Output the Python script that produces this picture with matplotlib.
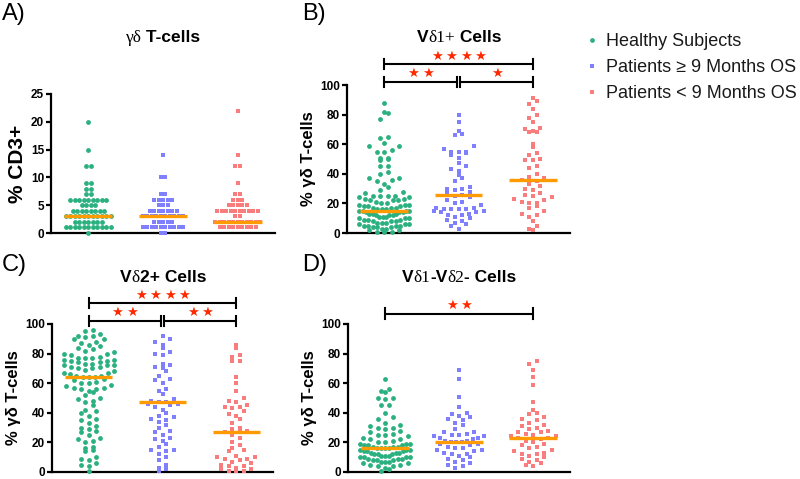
import numpy as np
import matplotlib
matplotlib.use('Agg')
import matplotlib.pyplot as plt
from matplotlib.lines import Line2D

plt.rcParams['font.family'] = ['Liberation Sans', 'DejaVu Sans']

W, H = 800, 479

groups = ['Healthy Subjects', 'Patients ≥ 9 Months OS', 'Patients < 9 Months OS']
colors = ['#2bb07f', '#8080ff', '#fa7d7d']
markers = ['o', 's', 's']
median_color = '#ff9a00'
star_color = '#ff2a00'

# A) gd T-cells, % CD3+
gd_healthy = [20, 15, 12, 12, 9, 9, 8, 8, 7, 7,
              6, 6, 6, 6, 6, 6, 6, 6, 6, 5, 5, 5, 5,
              4, 4, 4, 4, 4, 4, 4, 4,
              3, 3, 3, 3, 3, 3, 3, 3, 3, 3, 3,
              2, 2, 2, 2, 2, 2, 2,
              1, 1, 1, 1, 1, 1, 1, 1, 1, 1, 1, 0]
gd_long = [14, 10, 10, 7, 7, 6, 6, 6, 6, 6, 5, 5, 5,
           4, 4, 4, 4, 4, 4, 4,
           3, 3, 3, 3, 3, 3, 3, 3, 3, 3,
           2, 2, 2, 2, 2,
           1, 1, 1, 1, 1, 1, 1, 1, 1, 1, 0, 0]
gd_short = [22, 14, 12, 12, 9, 7, 7, 6, 6, 6, 5, 5, 5, 5, 5,
            4, 4, 4, 4, 4, 4, 4, 4, 4, 4, 3, 3,
            2, 2, 2, 2, 2, 2, 2, 2, 2, 2, 2,
            1, 1, 1, 1, 1, 1, 1, 1, 1]
gd_medians = [3, 3, 2]

# B) Vd1+ cells, % gd T-cells
vd1_healthy = [88, 82, 81, 77, 65, 64, 61, 59, 59, 56, 55, 55, 51, 51, 50, 49, 45, 45,
               41, 40, 37, 37, 36, 35, 33, 31, 29, 28, 27, 25, 25, 25, 25, 24, 24, 23,
               23, 22, 22, 22, 21, 20, 20, 19, 19, 19, 18, 18, 18, 17, 17, 17, 16, 16,
               16, 15, 15, 15, 15, 14, 14, 14, 13, 13, 13, 12, 12, 12, 11, 11, 11, 10,
               10, 10, 9, 9, 9, 8, 8, 8, 7, 7, 7, 6, 6, 6, 5, 5, 5, 5, 4, 4, 4, 3, 3,
               2, 2, 1, 1, 0.5]
vd1_long = [80, 75, 69, 67, 66, 59, 57, 55, 55, 55, 54, 53, 51, 47, 45, 43, 42, 39,
            37, 35, 31, 30, 30, 29, 28, 27, 26, 25, 24, 22, 21, 20, 19, 17, 17, 16,
            16, 16, 16, 15, 15, 14, 14, 13, 12, 12, 11, 10, 9, 8, 7, 6, 5, 3]
vd1_short = [91, 89, 87, 84, 80, 78, 75, 71, 70, 69, 68, 68, 60, 58, 54, 53, 50, 49,
             49, 45, 44, 40, 38, 37, 36, 35, 33, 32, 30, 29, 27, 26, 25, 24, 23, 22,
             21, 20, 20, 18, 17, 15, 13, 12, 11, 8, 5, 3, 2]
vd1_medians = [15, 26, 36]

# C) Vd2+ cells
vd2_healthy = [96, 95, 93, 92, 92, 91, 90, 90, 88, 87, 86, 85, 84, 83, 82, 81, 80, 80,
               79, 78, 77, 77, 77, 76, 76, 75, 75, 74, 74, 73, 73, 72, 72, 72, 71, 71,
               70, 70, 69, 68, 67, 67, 66, 65, 65, 64, 64, 64, 63, 62, 61, 60, 60, 59,
               58, 57, 57, 56, 56, 55, 54, 52, 50, 49, 48, 47, 45, 42, 41, 40, 38, 36,
               35, 33, 31, 30, 29, 28, 27, 25, 23, 22, 21, 20, 17, 16, 15, 14, 10, 9,
               8, 6, 5, 4, 1]
vd2_long = [92, 90, 88, 86, 84, 81, 80, 79, 73, 72, 71, 70, 68, 65, 63, 62, 60, 56,
            55, 53, 49, 48, 47, 47, 46, 46, 45, 44, 42, 40, 38, 37, 36, 35, 34, 32,
            30, 28, 27, 25, 23, 22, 21, 19, 17, 15, 15, 14, 12, 10, 8, 5, 3, 2, 0.5]
vd2_short = [86, 84, 79, 78, 75, 75, 64, 60, 55, 50, 48, 47, 45, 44, 44, 43, 41, 39,
             38, 36, 33, 30, 29, 28, 27, 27, 25, 23, 20, 18, 16, 15, 14, 11, 10, 10,
             9, 9, 8, 7, 6, 5, 4, 4, 3, 2, 2, 1, 1, 0.5]
vd2_medians = [64, 47, 27]

# D) Vd1-Vd2- cells
dn_healthy = [63, 56, 55, 54, 50, 50, 49, 45, 45, 40, 37, 36, 33, 32, 31, 30, 30, 29,
              28, 27, 26, 25, 25, 24, 23, 22, 22, 21, 20, 20, 19, 19, 19, 18, 18, 18,
              17, 17, 17, 16, 16, 16, 16, 15, 15, 15, 14, 14, 14, 13, 13, 13, 12, 12,
              12, 11, 11, 11, 10, 10, 10, 10, 9, 9, 9, 8, 8, 8, 7, 7, 7, 6, 6, 5, 5,
              4, 4, 3, 2, 1]
dn_long = [69, 63, 51, 44, 40, 39, 38, 37, 36, 35, 33, 32, 29, 27, 27, 26, 25, 25,
           24, 24, 23, 23, 22, 21, 21, 20, 20, 20, 19, 19, 18, 17, 16, 16, 15, 15,
           14, 13, 12, 12, 11, 10, 9, 8, 7, 6, 5, 4, 3]
dn_short = [75, 73, 69, 64, 59, 47, 42, 40, 39, 37, 36, 35, 33, 32, 31, 30, 29, 28,
            27, 27, 26, 25, 24, 24, 23, 23, 22, 21, 20, 19, 18, 17, 16, 15, 14, 13,
            12, 12, 11, 10, 9, 8, 7, 6, 5, 4]
dn_medians = [16, 20, 23]


def row_offsets(values, ppu, row_h, d, max_w):
    # Prism-like scatter: points whose pixel heights fall in the same band
    # are laid out side by side, centred on the column (pixel offsets)
    ys = np.asarray(values, dtype=float) * ppu
    bands = np.floor(ys / row_h + 0.5).astype(int)
    offs = np.zeros(len(ys))
    for b in np.unique(bands):
        idx = np.where(bands == b)[0]
        idx = idx[np.argsort(ys[idx], kind='stable')]
        n = len(idx)
        step = d if n < 2 else min(d, max_w / (n - 1))
        # alternate around the centre so the band stays level
        slots = sorted(range(n), key=lambda k: (abs(k - (n - 1) / 2), k))
        for j, k in zip(idx, slots):
            offs[j] = (k - (n - 1) / 2) * step
    return offs


fig = plt.figure(figsize=(W / 100, H / 100), dpi=100)


def add_panel(l, r, t, b, data, medians, ymax, ystep, ylabel, ylsize, row_h, d, max_w):
    ax = fig.add_axes([l / W, 1 - b / H, (r - l) / W, (b - t) / H])
    ax.set_xlim(-0.5, 2.5)
    ax.set_ylim(0, ymax)
    ppu_y = (b - t) / ymax
    ppu_x = (r - l) / 3.0
    for i, vals in enumerate(data):
        offs = row_offsets(vals, ppu_y, row_h, d, max_w)
        ax.scatter(i + offs / ppu_x, vals, s=12, marker=markers[i], color=colors[i],
                   linewidths=0, clip_on=False, zorder=3)
        ax.plot([i - 0.32, i + 0.32], [medians[i], medians[i]], color=median_color,
                lw=2.4, solid_capstyle='butt', zorder=4)
    for s in ['top', 'right']:
        ax.spines[s].set_visible(False)
    for s in ['left', 'bottom']:
        ax.spines[s].set_linewidth(1.6)
    ax.set_xticks([])
    ax.set_yticks(np.arange(0, ymax + 1, ystep))
    ax.tick_params(axis='y', length=3.5, width=1.6, pad=1.5, labelsize=8.5)
    for lab in ax.get_yticklabels():
        lab.set_fontweight('bold')
    ax.set_ylabel(ylabel, fontsize=ylsize, fontweight='bold', labelpad=3)
    return ax


def sig_bar(ax, x0, x1, y, n, star_y, cap=3.5):
    ax.plot([x0, x1], [y, y], color='k', lw=1.5, clip_on=False, solid_capstyle='butt')
    for x in (x0, x1):
        ax.plot([x, x], [y - cap, y + cap], color='k', lw=1.5, clip_on=False)
    pitch = 10.5  # points between star centres
    for k in range(n):
        ax.annotate('★', xy=((x0 + x1) / 2, star_y),
                    xytext=((k - (n - 1) / 2) * pitch, 0), textcoords='offset points',
                    ha='center', va='center', color=star_color, fontsize=9.5,
                    family='DejaVu Sans', annotation_clip=False)


axA = add_panel(51, 275, 94, 233, [gd_healthy, gd_long, gd_short], gd_medians,
                25, 5, '% CD3+', 15, 5.56, 4.5, 60)
axB = add_panel(347, 570, 85, 233, [vd1_healthy, vd1_long, vd1_short], vd1_medians,
                100, 20, '% γδ T-cells', 12, 6.5, 7.5, 50)
axC = add_panel(52, 273, 324, 472, [vd2_healthy, vd2_long, vd2_short], vd2_medians,
                100, 20, '% γδ T-cells', 12, 6.5, 7.5, 50)
axD = add_panel(348, 570, 324, 472, [dn_healthy, dn_long, dn_short], dn_medians,
                100, 20, '% γδ T-cells', 12, 6.5, 7.5, 50)

g = 0.025
sig_bar(axB, 0, 2, 114, 4, 119.5)
sig_bar(axB, 0, 1 - g, 102, 2, 107.5)
sig_bar(axB, 1 + g, 2, 102, 1, 107.5)
sig_bar(axC, 0, 2, 114, 4, 119.5)
sig_bar(axC, 0, 1 - g, 102, 2, 107.5)
sig_bar(axC, 1 + g, 2, 102, 2, 107.5)
sig_bar(axD, 0, 2, 107, 2, 112.5)

# titles built from pieces (bold sans + serif greek)
bold = dict(fontsize=12.5, fontweight='bold', family='Liberation Sans')
serif = dict(fontsize=12.5, family='Liberation Serif')
renderer = fig.canvas.get_renderer()


def seg_title(cx, base, segs):
    texts = [fig.text(0, 1 - base / H, s, va='baseline', **kw) for s, kw in segs]
    widths = [t.get_window_extent(renderer).width for t in texts]
    x = cx - sum(widths) / 2
    for t, w in zip(texts, widths):
        t.set_x(x / W)
        x += w


seg_title(163, 42, [('γδ', serif), (' T-cells', bold)])
seg_title(459, 42, [('V', bold), ('δ1+', serif), (' Cells', bold)])
seg_title(163, 282, [('V', bold), ('δ', serif), ('2+ Cells', bold)])
seg_title(459, 282, [('V', bold), ('δ1', serif), ('-V', bold), ('δ2', serif), ('- Cells', bold)])

for lab, x, base in [('A)', 2, 20), ('B)', 302, 20), ('C)', 2, 271), ('D)', 302, 271)]:
    fig.text(x / W, 1 - base / H, lab, fontsize=17, va='baseline')

handles = [Line2D([], [], ls='none', marker=markers[i], color=colors[i], markersize=3.4,
                  markeredgewidth=0) for i in range(3)]
fig.legend(handles, groups, loc='upper left', bbox_to_anchor=(583 / W, 1 - 33 / H),
           frameon=False, fontsize=13, handlelength=1.0, handletextpad=0.25,
           labelspacing=0.5, borderpad=0, borderaxespad=0, labelcolor='#1a1a1a')

fig.savefig('out.png', dpi=100)
